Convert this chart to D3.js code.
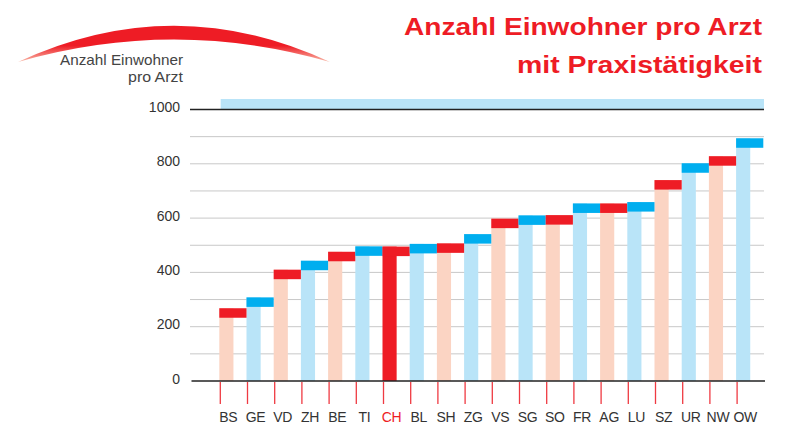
<!DOCTYPE html>
<html><head><meta charset="utf-8">
<script src="https://cdn.jsdelivr.net/npm/d3@7"></script>
<style>
html,body{margin:0;padding:0;background:#fff;}
svg{display:block;font-family:"Liberation Sans",Arial,Helvetica,sans-serif;}
</style></head>
<body><svg id="c" width="798" height="425"></svg>
<script>
const categories = ["BS","GE","VD","ZH","BE","TI","CH","BL","SH","ZG","VS","SG","SO","FR","AG","LU","SZ","UR","NW","OW"];
const values = [268,308,410,443,476,496,495,505,507,541,598,610,611,654,654,659,740,802,828,894];
const yTickLabels = [0,200,400,600,800,1000];
const gridValues = [100,200,300,400,500,600,700,800,900];
const highlight = "CH";
const titleLines = ["Anzahl Einwohner pro Arzt","mit Praxistätigkeit"];
const logoLines = ["Anzahl Einwohner","pro Arzt"];

const capUnits = 35;
const RED = "#ee1c25", BLUE = "#00aeef", PEACH = "#fbd4c3", LBLUE = "#b9e4f8";

const svg = d3.select("#c");
const x = d3.scaleBand().domain(categories).range([219.3, 763.3]).paddingInner(0).paddingOuter(0);
const y = d3.scaleLinear().domain([0,1000]).range([381, 109.5]);
const barW = x.bandwidth()*0.52;

// logo swoosh
const defs = svg.append("defs");
const lg = defs.append("linearGradient").attr("id","sw").attr("x1",0).attr("y1",0).attr("x2",0).attr("y2",1);
lg.append("stop").attr("offset","0%").attr("stop-color",RED);
lg.append("stop").attr("offset","55%").attr("stop-color",RED);
lg.append("stop").attr("offset","100%").attr("stop-color","#f9b9a8");
svg.append("path")
  .attr("d","M18,62 Q174,-10.6 330,62 Q174,17 18,62 Z")
  .attr("fill","url(#sw)");
svg.append("text").attr("x",183).attr("y",65).attr("text-anchor","end")
  .attr("font-size",14.5).attr("fill","#444").attr("textLength",123).attr("lengthAdjust","spacingAndGlyphs").text(logoLines[0]);
svg.append("text").attr("x",183).attr("y",81.5).attr("text-anchor","end")
  .attr("font-size",14.5).attr("fill","#444").attr("textLength",55).attr("lengthAdjust","spacingAndGlyphs").text(logoLines[1]);

// title
svg.append("text").attr("x",762).attr("y",35).attr("text-anchor","end")
  .attr("font-size",23).attr("font-weight","bold").attr("fill",RED)
  .attr("textLength",358).attr("lengthAdjust","spacingAndGlyphs").text(titleLines[0]);
svg.append("text").attr("x",762).attr("y",73).attr("text-anchor","end")
  .attr("font-size",23).attr("font-weight","bold").attr("fill",RED)
  .attr("textLength",245).attr("lengthAdjust","spacingAndGlyphs").text(titleLines[1]);

// top band
svg.append("rect").attr("x",x.range()[0]+1.4).attr("y",y(1000)-10.5).attr("width",764-x.range()[0]-1.4).attr("height",10.5).attr("fill",LBLUE);

// grid
svg.selectAll("line.grid").data(gridValues).join("line").attr("class","grid")
  .attr("x1",190).attr("x2",764).attr("y1",d=>y(d)).attr("y2",d=>y(d))
  .attr("stroke","#c8c8c8").attr("stroke-width",1);
svg.append("line").attr("x1",190).attr("x2",764).attr("y1",y(1000)).attr("y2",y(1000))
  .attr("stroke","#222").attr("stroke-width",1.3);

// y labels
svg.selectAll("text.yl").data(yTickLabels).join("text").attr("class","yl")
  .attr("x",180).attr("y",d=>y(d)+2.5).attr("text-anchor","end")
  .attr("font-size",14).attr("fill","#333").text(d=>d);

// bars
const data = categories.map((c,i)=>({c,i,v:values[i]}));
const isHi = d=>d.c===highlight;
svg.selectAll("rect.bar").data(data).join("rect").attr("class","bar")
  .attr("x",d=>x(d.c)).attr("width",barW)
  .attr("y",d=>y(d.v)).attr("height",d=>y(0)-y(d.v))
  .attr("fill",d=>isHi(d)?RED:(d.i%2===0?PEACH:LBLUE));
svg.selectAll("rect.cap").data(data).join("rect").attr("class","cap")
  .attr("x",d=>x(d.c)).attr("width",x.bandwidth())
  .attr("y",d=>y(d.v)).attr("height",d=>y(d.v-capUnits)-y(d.v))
  .attr("fill",d=>isHi(d)?RED:(d.i%2===0?RED:BLUE));

// zero axis
svg.append("line").attr("x1",191.5).attr("x2",765).attr("y1",y(0)).attr("y2",y(0))
  .attr("stroke","#222").attr("stroke-width",1.3);

// ticks
svg.selectAll("line.tk").data(categories).join("line").attr("class","tk")
  .attr("x1",d=>x(d)+1).attr("x2",d=>x(d)+1).attr("y1",y(0)+1).attr("y2",y(0)+23)
  .attr("stroke","#ef3a42").attr("stroke-width",1.3);

// category labels
svg.selectAll("text.cl").data(categories).join("text").attr("class","cl")
  .attr("x",d=>x(d)+barW/2+2).attr("y",422).attr("text-anchor","middle")
  .attr("font-size",14).attr("fill",d=>d===highlight?RED:"#333").attr("letter-spacing",-0.3).text(d=>d);
</script></body></html>
